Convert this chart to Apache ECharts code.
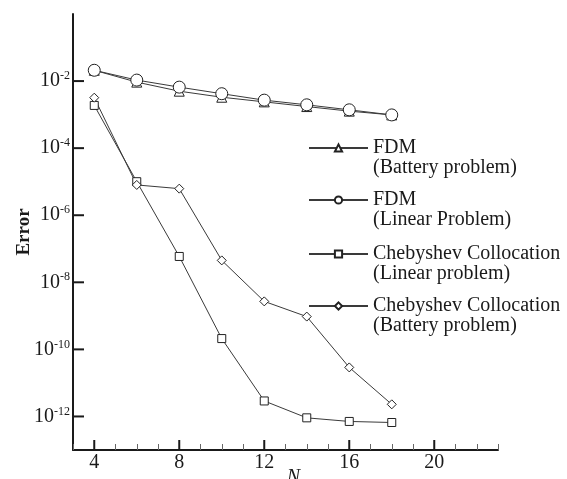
<!DOCTYPE html>
<html>
<head>
<meta charset="utf-8">
<script src="https://cdn.jsdelivr.net/npm/echarts@6/dist/echarts.min.js"></script>
<style>html,body{margin:0;padding:0;background:#fff}#c{width:567px;height:479px}</style>
</head>
<body>
<div id="c"></div>
<script>
var N = [4, 6, 8, 10, 12, 14, 16, 18];
var fdmBattery = [2.1e-2, 9.3e-3, 5.0e-3, 3.3e-3, 2.4e-3, 1.74e-3, 1.27e-3, 9.8e-4];
var fdmLinear = [2.1e-2, 1.07e-2, 6.6e-3, 4.2e-3, 2.7e-3, 1.96e-3, 1.39e-3, 9.8e-4];
var chebLinear = [1.88e-3, 1.0e-5, 5.9e-8, 2.1e-10, 2.9e-12, 9.1e-13, 7.1e-13, 6.6e-13];
var chebBattery = [3.2e-3, 8e-6, 6.2e-6, 4.5e-8, 2.7e-9, 9.5e-10, 2.9e-11, 2.3e-12];
var xTickLabels = [4, 8, 12, 16, 20];
var yTickValues = [1e-12, 1e-10, 1e-8, 1e-6, 1e-4, 1e-2];
var seriesNames = ['FDM (Battery problem)', 'FDM (Linear Problem)', 'Chebyshev Collocation (Linear problem)', 'Chebyshev Collocation (Battery problem)'];
var legendText = {
  'FDM (Battery problem)': '\nFDM\n(Battery problem)',
  'FDM (Linear Problem)': '\nFDM\n(Linear Problem)',
  'Chebyshev Collocation (Linear problem)': '\nChebyshev Collocation\n(Linear problem)',
  'Chebyshev Collocation (Battery problem)': '\nChebyshev Collocation\n(Battery problem)'
};

var FONT = 'Liberation Serif';
var INK = '#1a1a1a';
var X0 = 3, X1 = 23, L0 = -13, L1 = 0;

function pairs(ys) { return N.map(function (x, i) { return [x, ys[i]]; }); }
function mkSeries(name, ys, symbol, size) {
  return {
    name: name, type: 'line', data: pairs(ys),
    xAxisIndex: 0, yAxisIndex: 0,
    symbol: symbol, symbolSize: size, showSymbol: true,
    lineStyle: { color: '#3a3a3a', width: 1 },
    itemStyle: { color: '#fff', borderColor: '#222', borderWidth: 1 },
    emphasis: { disabled: true }, animation: false
  };
}
var legendTops = [118, 170, 224, 276];
var legends = seriesNames.map(function (n, i) {
  return {
    data: [n], left: 308, top: legendTops[i], padding: 0, itemGap: 0,
    itemWidth: 59, itemHeight: 9, selectedMode: false,
    formatter: function (name) { return legendText[name]; },
    textStyle: { fontFamily: FONT, fontSize: 20, lineHeight: 20, color: INK }
  };
});

var chart = echarts.init(document.getElementById('c'), null, { renderer: 'canvas' });
chart.setOption({
  animation: false,
  backgroundColor: '#fff',
  grid: { left: 73, top: 14, right: 69, bottom: 29, containLabel: false, outerBoundsMode: 'none' },
  legend: legends,
  xAxis: {
    type: 'value', min: X0, max: X1, interval: 1, position: 'bottom',
    name: 'N', nameLocation: 'middle', nameGap: 18, nameMoveOverlap: false,
    nameTextStyle: { fontFamily: FONT, fontStyle: 'italic', fontSize: 20, color: INK, padding: [0, 0, 0, 16] },
    axisLine: { onZero: false, lineStyle: { color: INK, width: 2 } },
    axisTick: { inside: true, length: 6, lineStyle: { color: '#666', width: 1 } },
    axisLabel: {
      customValues: xTickLabels, margin: -10,
      formatter: function (v) { return '{t| }\n{n|' + v + '}'; },
      rich: {
        t: { width: 2, height: 10, lineHeight: 10, fontSize: 2, backgroundColor: INK },
        n: { fontFamily: FONT, fontSize: 20, lineHeight: 20, color: INK, padding: [5, 0, 0, 0] }
      }
    },
    splitLine: { show: false }
  },
  yAxis: {
    type: 'log', logBase: 10, min: Math.pow(10, L0), max: Math.pow(10, L1), position: 'left',
    name: 'Error', nameLocation: 'middle', nameGap: 39, nameRotate: 90, nameMoveOverlap: false,
    nameTextStyle: { fontFamily: FONT, fontWeight: 'bold', fontSize: 19, color: INK },
    axisLine: { onZero: false, lineStyle: { color: INK, width: 2 } },
    axisTick: { show: false },
    axisLabel: {
      customValues: yTickValues, margin: -11,
      formatter: function (v) { var e = Math.round(Math.log10(v)); return '{b|10}{s|' + e + '}{g| }{t| }'; },
      rich: {
        b: { fontFamily: FONT, fontSize: 20, color: INK },
        s: { fontFamily: FONT, fontSize: 12, color: INK, padding: [0, 0, 10, 0] },
        g: { width: 3, fontSize: 2, lineHeight: 2 },
        t: { width: 11, height: 2, lineHeight: 2, fontSize: 2, backgroundColor: INK }
      }
    },
    splitLine: { show: false }
  },
  series: [
    mkSeries(seriesNames[0], fdmBattery, 'triangle', 10),
    mkSeries(seriesNames[1], fdmLinear, 'circle', 12),
    mkSeries(seriesNames[2], chebLinear, 'rect', 8),
    mkSeries(seriesNames[3], chebBattery, 'diamond', 9)
  ]
});
</script>
</body>
</html>
